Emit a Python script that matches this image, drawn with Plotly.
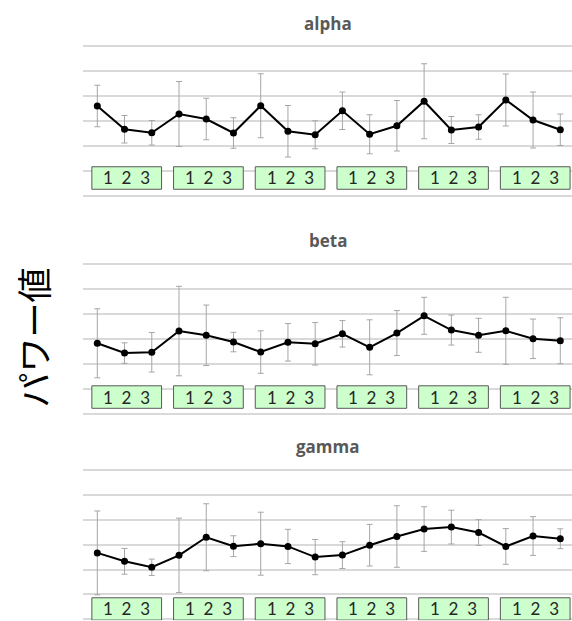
import plotly.graph_objects as go

# Mean power per condition (6 blocks x conditions 1-3) and error half-widths
conditions = ["1", "2", "3"]
n_blocks = 6
bands = ["alpha", "beta", "gamma"]

alpha_mean = [3.60, 2.67, 2.53, 3.28, 3.08, 2.52, 3.61, 2.59, 2.45,
              3.41, 2.47, 2.81, 3.79, 2.64, 2.76, 3.84, 3.04, 2.65]
alpha_err = [0.83, 0.55, 0.49, 1.30, 0.83, 0.61, 1.28, 1.03, 0.56,
             0.75, 0.78, 1.01, 1.50, 0.54, 0.49, 1.04, 1.12, 0.63]

beta_mean = [2.84, 2.45, 2.48, 3.33, 3.16, 2.89, 2.49, 2.88, 2.82,
             3.22, 2.68, 3.25, 3.94, 3.37, 3.16, 3.34, 3.02, 2.94]
beta_err = [1.38, 0.41, 0.79, 1.79, 1.21, 0.39, 0.85, 0.75, 0.85,
            0.53, 1.10, 0.90, 0.74, 0.60, 0.68, 1.34, 0.79, 0.92]

gamma_mean = [2.67, 2.33, 2.09, 2.57, 3.30, 2.94, 3.04, 2.93, 2.50,
              2.58, 2.98, 3.33, 3.63, 3.71, 3.49, 2.93, 3.35, 3.24]
gamma_err = [1.69, 0.52, 0.33, 1.50, 1.35, 0.42, 1.27, 0.69, 0.71,
             0.54, 0.84, 1.24, 0.90, 0.68, 0.52, 0.72, 0.78, 0.40]

y_title = "パワー値"

means = [alpha_mean, beta_mean, gamma_mean]
errs = [alpha_err, beta_err, gamma_err]
x = list(range(n_blocks * len(conditions)))

W, H = 572, 621
# pixel layout of each panel: (top gridline px, px per unit, range)
panel_px = [(46.0, 25.0, (-0.15, 6.15)),
            (264.3, 25.0, (-0.15, 6.15)),
            (470.3, 24.8, (-0.05, 6.15))]
# vertical extent of the condition boxes in data units, per panel
box_y = [(0.27, 1.17), (0.24, 1.14), (-0.04, 0.86)]
title_px = [24, 240.5, 446.5]

fig = go.Figure()
shapes = []
annotations = []

for i, band in enumerate(bands):
    sfx = "" if i == 0 else str(i + 1)
    top_px, ppu, yr = panel_px[i]
    dom_top = top_px - (yr[1] - 6) * ppu
    dom_bot = top_px + (6 - yr[0]) * ppu
    domain = [max(0.0, 1 - dom_bot / H), 1 - dom_top / H]

    fig.add_trace(go.Scatter(
        x=x, y=means[i],
        mode="lines+markers",
        line=dict(color="black", width=2),
        marker=dict(color="black", size=7),
        error_y=dict(type="data", array=errs[i], visible=True,
                     color="#a6a6a6", thickness=1, width=3),
        xaxis="x" + sfx, yaxis="y" + sfx,
        showlegend=False, cliponaxis=False,
    ))

    fig.update_layout(**{
        "xaxis" + sfx: dict(domain=[0, 1], range=[-0.525, 17.43],
                            showgrid=False, zeroline=False,
                            showticklabels=False, showline=False,
                            anchor="y" + sfx, fixedrange=True),
        "yaxis" + sfx: dict(domain=domain, range=list(yr), dtick=1, tick0=0,
                            showgrid=True, gridcolor="#d9d9d9", gridwidth=1.5,
                            zeroline=False, showticklabels=False,
                            showline=False, anchor="x" + sfx,
                            fixedrange=True),
    })

    # condition boxes "1 2 3" under each block
    y0, y1 = box_y[i]
    for g in range(n_blocks):
        x0, x1 = 3 * g - 0.2, 3 * g + 2.36
        shapes.append(dict(type="rect", xref="x" + sfx, yref="y" + sfx,
                           x0=x0, x1=x1, y0=y0, y1=y1,
                           fillcolor="#ccffcc",
                           line=dict(color="#595959", width=1),
                           layer="above"))
        annotations.append(dict(
            xref="x" + sfx, yref="y" + sfx,
            x=(x0 + x1) / 2, y=(y0 + y1) / 2,
            text="\u00a0\u00a0".join(conditions), showarrow=False,
            xanchor="center", yanchor="middle",
            font=dict(family="Lato", size=17, color="#262626")))

    annotations.append(dict(
        xref="paper", yref="paper", x=0.5, y=1 - title_px[i] / H,
        text="<b>%s</b>" % band, showarrow=False,
        xanchor="center", yanchor="middle",
        font=dict(family="Open Sans", size=17, color="#595959")))

annotations.append(dict(
    xref="paper", yref="paper", x=(32 - 83) / (W - 83), y=1 - 337.5 / H,
    text=y_title, textangle=-90, showarrow=False,
    xanchor="center", yanchor="middle",
    font=dict(family="Noto Sans CJK JP", size=35, color="black")))

fig.update_layout(
    width=W, height=H,
    margin=dict(l=83, r=0, t=0, b=0),
    paper_bgcolor="white", plot_bgcolor="white",
    shapes=shapes, annotations=annotations,
)

fig.write_html("out.html", config={"displayModeBar": False})
